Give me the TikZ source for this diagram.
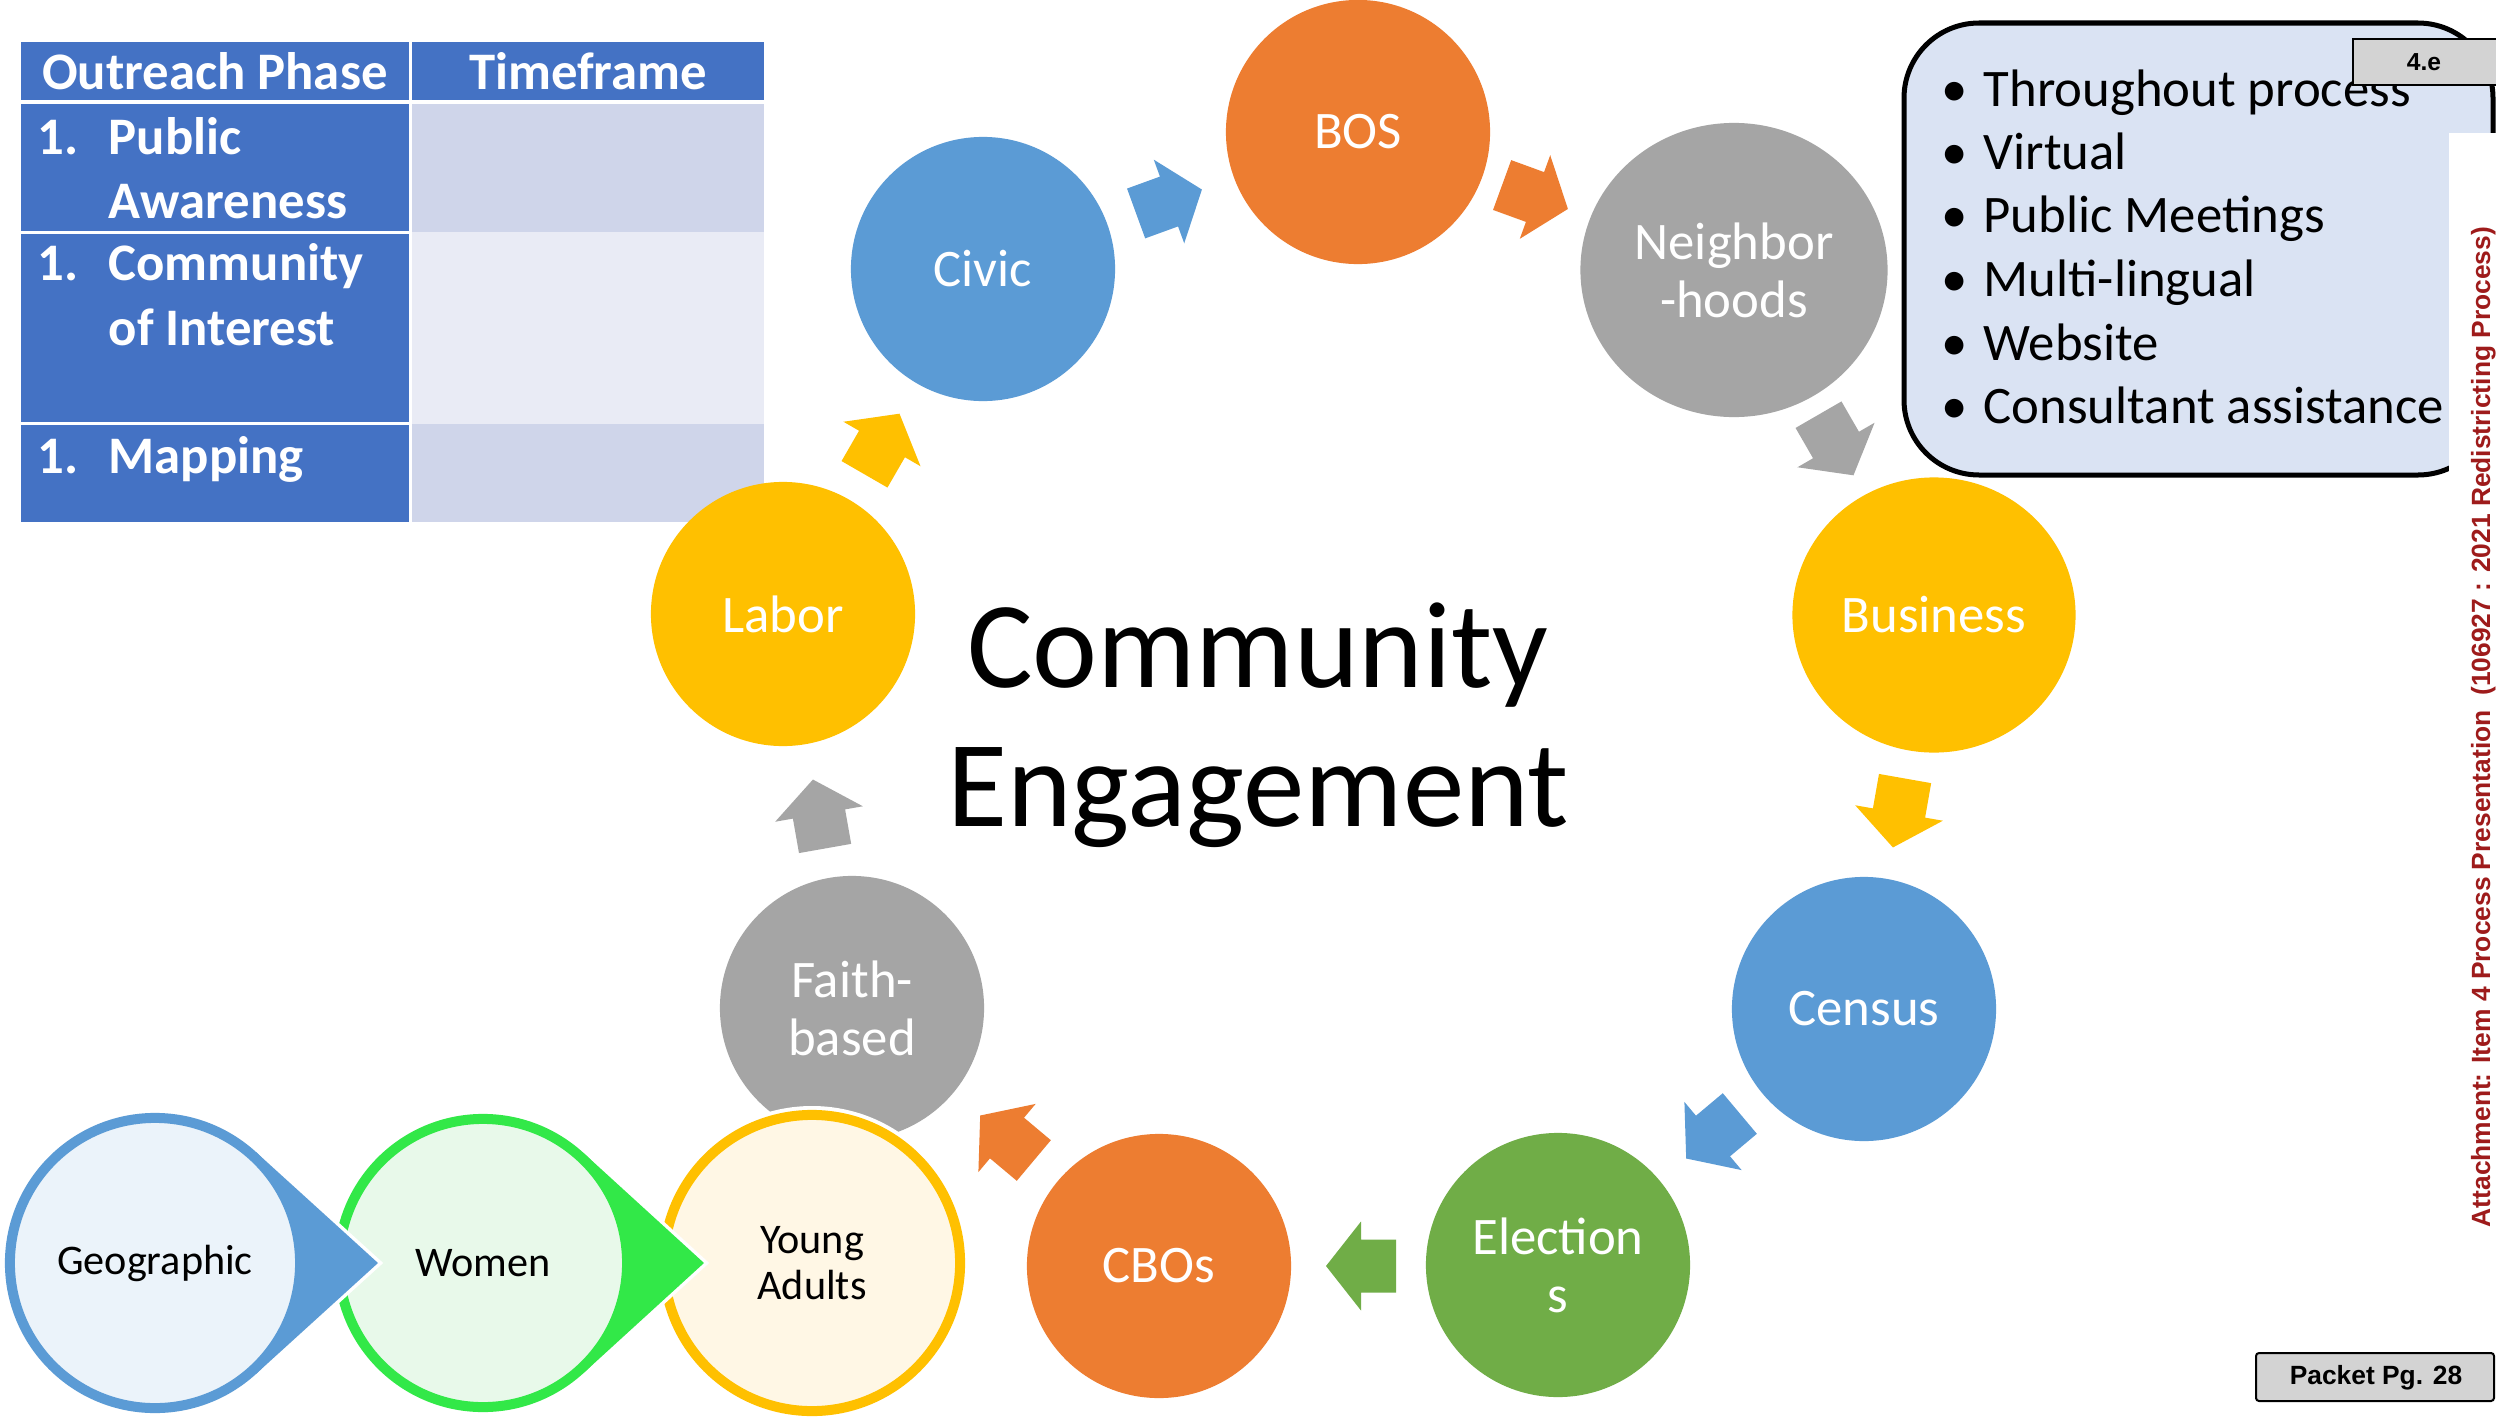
\documentclass[tikz,border=0pt]{standalone}
\usepackage{fontspec}
\setmainfont{Carlito}
\newfontfamily\arialf{Liberation Sans}
\usetikzlibrary{shapes.geometric,calc}

\definecolor{corange}{HTML}{ED7D31}
\definecolor{cblue}{HTML}{5B9BD5}
\definecolor{cgray}{HTML}{A5A5A5}
\definecolor{cyellow}{HTML}{FFC000}
\definecolor{cgreen}{HTML}{70AD47}
\definecolor{tblue}{HTML}{4472C4}
\definecolor{tlightA}{HTML}{CFD5EA}
\definecolor{tlightB}{HTML}{E9EBF5}
\definecolor{boxfill}{HTML}{DAE3F3}
\definecolor{geofill}{HTML}{EBF3FA}
\definecolor{womfill}{HTML}{E8F9EA}
\definecolor{womgreen}{RGB}{50,232,72}
\definecolor{youfill}{HTML}{FFF7E5}
\definecolor{sidered}{HTML}{9E1B1B}
\definecolor{tagfill}{HTML}{D3D3D3}

\newcommand\blockarrow[4]{%
  \fill[#4, shift={(#1,#2)}, rotate=#3] (-35,-26.5) -- (0,-26.5) -- (0,-44.5) -- (35,0) -- (0,44.5) -- (0,26.5) -- (-35,26.5) -- cycle;}

\tikzset{
  cyc/.style={circle, inner sep=0pt, minimum size=2.64cm, text=white, align=center,
    font=\fontsize{15pt}{16.5pt}\selectfont},
  subc/.style={circle, inner sep=0pt, line width=0.1cm, align=center, text=black,
    font=\fontsize{12pt}{13pt}\selectfont},
  tabtxt/.style={inner sep=0pt, text=white, font=\bfseries\fontsize{15pt}{18pt}\selectfont},
  bultxt/.style={inner sep=0pt, anchor=base west, text=black, font=\fontsize{15pt}{18pt}\selectfont},
  halo/.style={draw=white, line width=0.07cm, line join=miter},
}

\begin{document}
\begin{tikzpicture}[x=0.01cm, y=-0.01cm]
\useasboundingbox (0,0) rectangle (2496,1418);
\clip (0,0) rectangle (2496,1418);
\fill[white] (0,0) rectangle (2496,1418);

% ---- table ----
\fill[tblue] (21,42) rectangle (409,100);
\fill[tblue] (412,42) rectangle (764,100);
\fill[tblue] (21,104) rectangle (409,231);
\fill[tlightA] (412,104) rectangle (764,232);
\fill[tblue] (21,234) rectangle (409,422);
\fill[tlightB] (412,232) rectangle (764,424);
\fill[tblue] (21,425) rectangle (409,522);
\fill[tlightA] (412,424) rectangle (764,522);

\node[tabtxt, anchor=base] (h1) at (215,90) {Outreach Phase};
\node[tabtxt, anchor=base] (h2) at (588,90) {Timeframe};
\node[tabtxt, anchor=base west] (n1) at (37,154) {1.};
\node[tabtxt, anchor=base west] (t1a) at (108,154) {Public};
\node[tabtxt, anchor=base west] (t1b) at (108,218) {Awareness};
\node[tabtxt, anchor=base west] (n2) at (37,280) {1.};
\node[tabtxt, anchor=base west] (t2a) at (108,280) {Community};
\node[tabtxt, anchor=base west] (t2b) at (108,345) {of Interest};
\node[tabtxt, anchor=base west] (n3) at (37,473) {1.};
\node[tabtxt, anchor=base west] (t3) at (108,473) {Mapping};

% ---- cycle ----
\node[cyc, fill=cblue] (civic) at (983,269) {Civic};
\node[cyc, fill=corange] (bos) at (1358,132) {BOS};
\node[cyc, ellipse, fill=cgray, minimum width=3.07cm, minimum height=2.94cm] (nbh) at (1734,270) {Neighbor\\-hoods};
\node[cyc, ellipse, fill=cyellow, minimum width=2.83cm, minimum height=2.75cm] (bus) at (1934,615) {Business};
\node[cyc, fill=cblue] (census) at (1864,1009) {Census};
\node[cyc, fill=cgreen] (elec) at (1558,1265) {Election\\s};
\node[cyc, fill=corange] (cbos) at (1159,1266) {CBOs};
\node[cyc, fill=cgray] (faith) at (852,1008) {Faith-\\based};
\node[cyc, fill=cyellow] (labor) at (783,614) {Labor};

\blockarrow{1169}{201.5}{20}{cblue}
\blockarrow{1535}{197}{-20}{corange}
\blockarrow{1836}{445}{-60}{cgray}
\blockarrow{1899}{813}{-100}{cyellow}
\blockarrow{1713}{1136}{-140}{cblue}
\blockarrow{1361}{1266}{180}{cgreen}
\blockarrow{1007}{1138}{140}{corange}
\blockarrow{819}{814}{100}{cgray}
\blockarrow{882}{444}{60}{cyellow}

\node[inner sep=0pt, anchor=base, font=\fontsize{35pt}{40pt}\selectfont] (ce1) at (1258,687) {Community};
\node[inner sep=0pt, anchor=base, font=\fontsize{35pt}{40pt}\selectfont] (ce2) at (1258,826) {Engagement};

% ---- bottom chain (drawn right to left, each on top of the next) ----
\coordinate (youc) at (812,1263);
\fill[white] (youc) circle (157);
\node[subc, draw=cyellow, fill=youfill, minimum size=2.96cm] (young) at (youc) {Young\\Adults};

\coordinate (womc) at (483,1263);
\coordinate (womtip) at (704,1263);
\fill[white] (womc) circle (153);
\path[halo] (womtip) -- ($(womc)+(47.6:149)$) -- ($(womc)+(-47.6:149)$) -- cycle;
\fill[womgreen] (womtip) -- ($(womc)+(47.6:149)$) -- (womc) -- ($(womc)+(-47.6:149)$) -- cycle;
\node[subc, draw=womgreen, fill=womfill, minimum size=2.88cm] (wom) at (womc) {Women};

\coordinate (geoc) at (155,1263);
\coordinate (geotip) at (378,1263);
\fill[white] (geoc) circle (154);
\path[halo] (geotip) -- ($(geoc)+(47.7:150)$) -- ($(geoc)+(-47.7:150)$) -- cycle;
\fill[cblue] (geotip) -- ($(geoc)+(47.7:150)$) -- (geoc) -- ($(geoc)+(-47.7:150)$) -- cycle;
\node[subc, draw=cblue, fill=geofill, minimum size=2.9cm] (geo) at (geoc) {Geographic};

% ---- bullet box ----
\draw[black, line width=0.05cm, fill=boxfill, rounded corners=0.75cm] (1904,23) rectangle (2493,475);
\node[bultxt] (b1) at (1941,106) {\makebox[0.42cm][l]{•}Throughout process};
\node[bultxt] (b2) at (1941,169) {\makebox[0.42cm][l]{•}Virtual};
\node[bultxt] (b3) at (1941,232) {\makebox[0.42cm][l]{•}Public Meetings};
\node[bultxt] (b4) at (1941,296) {\makebox[0.42cm][l]{•}Multi-lingual};
\node[bultxt] (b5) at (1941,360) {\makebox[0.42cm][l]{•}Website};
\node[bultxt] (b6) at (1941,423) {\makebox[0.42cm][l]{•}Consultant assistance};

% ---- side strip and tags ----
\fill[white] (2449,133) rectangle (2500,1420);
\draw[black, line width=0.02cm, fill=tagfill] (2353,39) rectangle (2510,85);
\node[inner sep=0pt, font=\arialf\bfseries\fontsize{7pt}{8pt}\selectfont] (tag) at (2424,62) {4.e};

\node[rotate=90, anchor=base, inner sep=0pt, text=sidered,
  font=\arialf\bfseries\fontsize{7.5pt}{9pt}\selectfont] (side) at (2490,727)
  {Attachment: Item 4 Process Presentation \ (106927 : 2021 Redistricting Process)};

\draw[black, line width=0.02cm, fill=tagfill, rounded corners=0.03cm] (2256,1353) rectangle (2494,1401);
\node[inner sep=0pt, anchor=base, font=\arialf\bfseries\fontsize{7.5pt}{9pt}\selectfont] (pkt) at (2376,1384) {Packet Pg. 28};
\end{tikzpicture}
\end{document}
